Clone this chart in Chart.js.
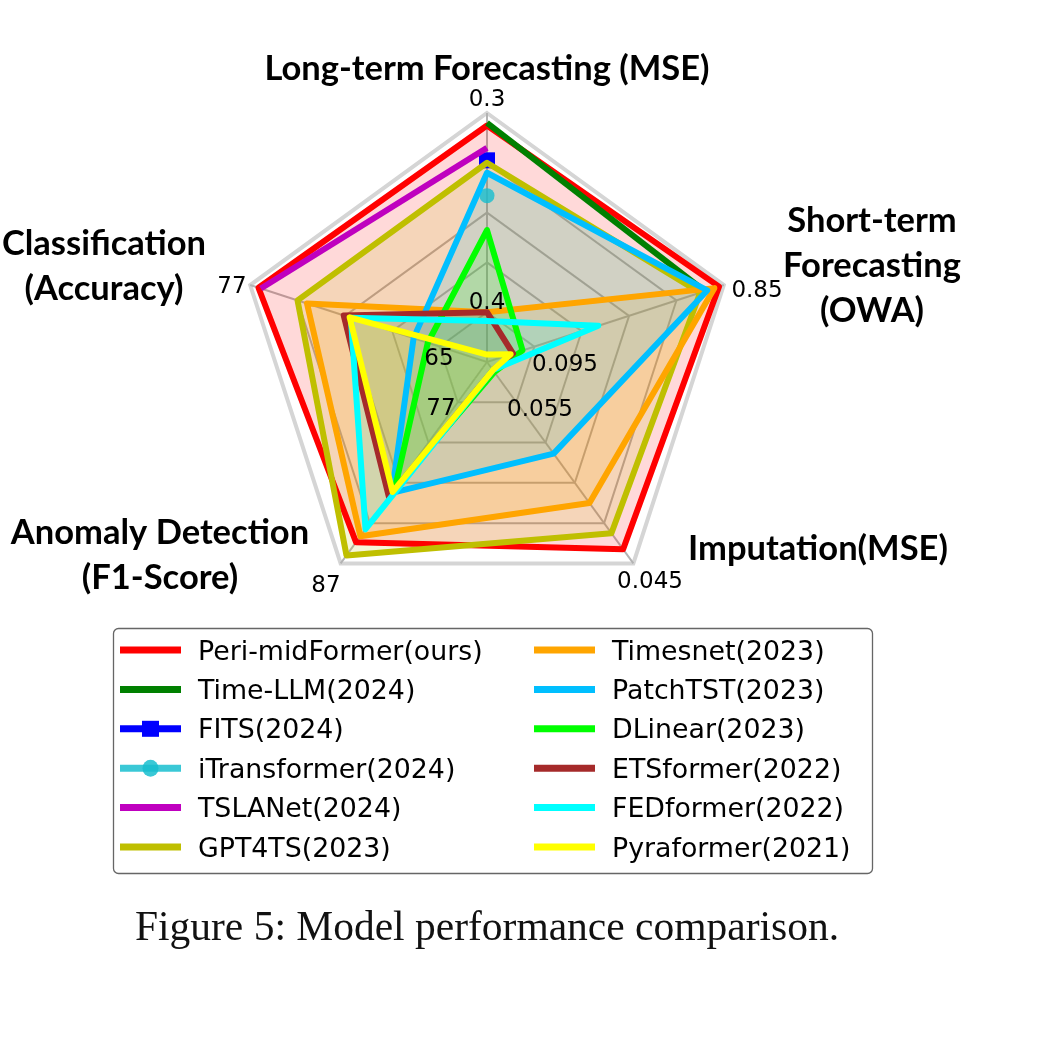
<!DOCTYPE html>
<html>
<head>
<meta charset="utf-8">
<script src="https://cdn.jsdelivr.net/npm/chart.js@4.4.3/dist/chart.umd.min.js"></script>
<style>
    html, body { margin: 0; padding: 0; background: #fff; }
    #wrap { position: relative; width: 1054px; height: 1044px; overflow: hidden; }
    #chart { position: absolute; left: 0; top: 0; }
    #caption {
        position: absolute; left: 0; top: 906px; width: 974px;
        text-align: center; line-height: 41px;
        font-family: "Liberation Serif", "Times New Roman", serif;
        font-size: 41.5px; color: #111;
    }
</style>
</head>
<body>
<div id="wrap">
    <canvas id="chart" width="1054" height="1044"></canvas>
    <div id="caption">Figure 5: Model performance comparison.</div>
</div>
<script>
// axes, clockwise from the top
const axisTitles = [
    ['Long-term Forecasting (MSE)'],
    ['Short-term', 'Forecasting', '(OWA)'],
    ['Imputation(MSE)'],
    ['Anomaly Detection', '(F1-Score)'],
    ['Classification', '(Accuracy)']
];
const outerTickLabels = ['0.3', '0.85', '0.045', '87', '77'];
const innerTickLabels = ['0.4', '0.095', '0.055', '77', '65'];

const models = [
    'Peri-midFormer(ours)', 'Time-LLM(2024)', 'FITS(2024)', 'iTransformer(2024)',
    'TSLANet(2024)', 'GPT4TS(2023)', 'Timesnet(2023)', 'PatchTST(2023)',
    'DLinear(2023)', 'ETSformer(2022)', 'FEDformer(2022)', 'Pyraformer(2021)'
];

// normalised scores (0 = centre, 1 = outer frame); null = task not reported
const periMidFormer = [0.95, 0.98, 0.93, 0.895, 0.965];
const timeLLM = [0.96, 0.92, null, null, null];
const fits = [0.81, null, null, null, null];
const iTransformer = [0.668, null, null, null, null];
const tslaNet = [0.86, null, null, null, 0.955];
const gpt4ts = [0.80, 0.90, 0.85, 0.96, 0.80];
const timesnet = [0.20, 0.96, 0.70, 0.865, 0.76];
const patchTST = [0.76, 0.93, 0.455, 0.65, 0.31];
const dlinear = [0.53, 0.15, 0.05, 0.63, 0.25];
const etsformer = [0.20, 0.11, 0.04, 0.67, 0.605];
const fedformer = [0.165, 0.47, 0.04, 0.83, 0.575];
const pyraformer = [0.03, 0.10, 0.04, 0.645, 0.58];

const series = [periMidFormer, timeLLM, fits, iTransformer, tslaNet, gpt4ts,
    timesnet, patchTST, dlinear, etsformer, fedformer, pyraformer];

// styles
const colors = ['#ff0000', '#008000', '#0000ff', '#17becf', '#bf00bf', '#bfbf00',
    '#ffa500', '#00bfff', '#00ff00', '#a52a2a', '#00ffff', '#ffff00'];
const filled = [true, false, false, false, false, true, true, true, true, true, true, true];
const markers = [null, null, 'rect', 'circle', null, null, null, null, null, null, null, null];

// text offsets from the radar centre (x = centre of text, y = baseline)
const titleOffsets = [[0, -282], [385, -130], [331, 198], [-327, 182], [-383, -107]];
const outerTickOffsets = [[0, -256], [270, -65], [163, 226], [-161, 230], [-255, -69]];
const innerTickOffsets = [[0, -53], [78, 9], [53, 54], [-46, 53], [-48, 3]];

function rgba(hex, a) {
    const n = parseInt(hex.slice(1), 16);
    return `rgba(${(n >> 16) & 255},${(n >> 8) & 255},${n & 255},${a})`;
}

const datasets = models.map((name, i) => ({
    label: name,
    data: series[i],
    borderColor: markers[i] === 'circle' ? rgba(colors[i], 0.8) : colors[i],
    backgroundColor: rgba(colors[i], 0.15),
    fill: filled[i] ? 'origin' : false,
    borderWidth: 6,
    borderJoinStyle: 'round',
    spanGaps: false,
    pointStyle: markers[i] || 'circle',
    pointRadius: markers[i] === 'rect' ? 11.3 : (markers[i] === 'circle' ? 7.5 : 0),
    pointBackgroundColor: markers[i] === 'circle' ? rgba(colors[i], 0.8) : colors[i],
    pointBorderWidth: 0,
    pointHitRadius: 0
})).reverse(); // later models drawn on top

const figureText = {
    id: 'figureText',
    afterDraw(chart) {
        const ctx = chart.ctx;
        const r = chart.scales.r;
        const cx = r.xCenter, cy = r.yCenter;
        ctx.save();
        ctx.fillStyle = '#000';
        ctx.textAlign = 'center';
        ctx.textBaseline = 'alphabetic';

        ctx.font = 'bold 34.5px Lato';
        axisTitles.forEach((lines, i) => {
            lines.forEach((line, j) => {
                ctx.fillText(line, cx + titleOffsets[i][0], cy + titleOffsets[i][1] + j * 45);
            });
        });

        ctx.font = '23px "DejaVu Sans"';
        outerTickLabels.forEach((t, i) => ctx.fillText(t, cx + outerTickOffsets[i][0], cy + outerTickOffsets[i][1]));
        innerTickLabels.forEach((t, i) => ctx.fillText(t, cx + innerTickOffsets[i][0], cy + innerTickOffsets[i][1]));

        // legend, two columns of six
        ctx.strokeStyle = '#666';
        ctx.lineWidth = 1.3;
        ctx.beginPath();
        ctx.roundRect(113.5, 628.5, 759, 245, 5);
        ctx.stroke();

        ctx.font = '26.8px "DejaVu Sans"';
        ctx.textAlign = 'left';
        models.forEach((name, i) => {
            const col = Math.floor(i / 6), row = i % 6;
            const x0 = col ? 534 : 120;
            const y = 650 + row * 39.4;
            const c = markers[i] === 'circle' ? rgba(colors[i], 0.85) : colors[i];
            ctx.strokeStyle = c;
            ctx.lineWidth = 7;
            ctx.beginPath();
            ctx.moveTo(x0, y);
            ctx.lineTo(x0 + 61, y);
            ctx.stroke();
            ctx.fillStyle = c;
            if (markers[i] === 'rect') {
                ctx.fillRect(x0 + 30.5 - 8.5, y - 8, 17, 16);
            } else if (markers[i] === 'circle') {
                ctx.beginPath();
                ctx.ellipse(x0 + 30.5, y, 8, 8.5, 0, 0, Math.PI * 2);
                ctx.fill();
            }
            ctx.fillStyle = '#000';
            ctx.fillText(name, col ? 612 : 198, y + 9.5);
        });
        ctx.restore();
    }
};

new Chart(document.getElementById('chart'), {
    type: 'radar',
    data: { labels: axisTitles.map(t => t.join(' ')), datasets: datasets },
    options: {
        responsive: false,
        animation: false,
        events: [],
        layout: { padding: { left: 238, top: 113, right: 318, bottom: 433 } },
        plugins: {
            legend: { display: false },
            tooltip: { enabled: false },
            filler: { drawTime: 'beforeDatasetsDraw' } // all shading below all lines
        },
        scales: {
            r: {
                min: 0,
                max: 1,
                ticks: { display: false, stepSize: 0.2 },
                pointLabels: { display: false },
                grid: {
                    circular: false,
                    color: c => c.index === 5 ? '#d5d5d5' : '#b3b3b3',
                    lineWidth: c => c.index === 5 ? 4 : 2
                },
                angleLines: { color: '#b3b3b3', lineWidth: 2 },
                afterFit: s => {
                    s.xCenter = s.left + s.width / 2;
                    s.yCenter = s.top + s.height / 2;
                    s.drawingArea = Math.min(s.width, s.height) / 2;
                }
            }
        }
    },
    plugins: [figureText]
});
</script>
</body>
</html>
